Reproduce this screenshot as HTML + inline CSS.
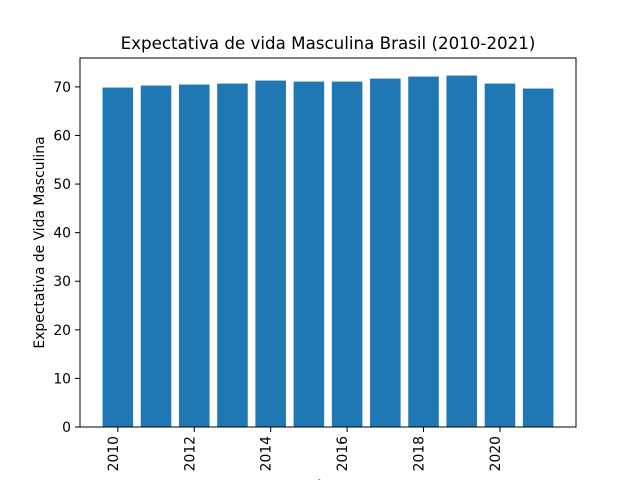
<!DOCTYPE html>
<html><head><meta charset="utf-8"><style>
body{margin:0;background:#fff}
svg text{font-family:"DejaVu Sans","Liberation Sans",sans-serif;fill:#000}
</style></head><body>
<svg id="c" width="640" height="480" viewBox="0 0 640 480">
<rect width="640" height="480" fill="#fff"/>
<g id="bars"></g><g id="axes"></g>
</svg>
<script>
const categories=[2010,2011,2012,2013,2014,2015,2016,2017,2018,2019,2020,2021];
const values=[69.86,70.27,70.48,70.68,71.30,71.09,71.09,71.71,72.12,72.33,70.68,69.66];
const yTicks=[0,10,20,30,40,50,60,70];
const xTicks=[2010,2012,2014,2016,2018,2020];
const L=80,R=576,T=58,B=427;
const ymax=Math.max(...values)*1.05;
const x0=categories[0]-0.4-0.05*(categories[categories.length-1]-categories[0]+0.8);
const x1=categories[categories.length-1]+0.4+0.05*(categories[categories.length-1]-categories[0]+0.8);
const xs=v=>L+(v-x0)/(x1-x0)*(R-L);
const ys=v=>B-v/ymax*(B-T);
const NS="http://www.w3.org/2000/svg";
function mk(t,a,p){const e=document.createElementNS(NS,t);for(const k in a)e.setAttribute(k,a[k]);p.appendChild(e);return e;}
const bars=document.getElementById('bars'),axes=document.getElementById('axes');
categories.forEach((c,i)=>{
 const r=mk('rect',{x:xs(c-0.4),y:ys(values[i]),width:xs(c+0.4)-xs(c-0.4),height:B-ys(values[i]),fill:'#1f77b4'},bars);
 
 
});
const fr=mk('rect',{x:L,y:T,width:R-L,height:B-T,fill:'none',stroke:'#000','stroke-width':1},axes);


yTicks.forEach(v=>{
 const y=ys(v);
 mk('line',{x1:L-5,x2:L,y1:y,y2:y,stroke:'#000','stroke-width':1},axes);
 const t=mk('text',{x:L-9,y:y+5,'text-anchor':'end','font-size':13.9},axes);
 t.textContent=v;
 
 
});
xTicks.forEach(v=>{
 const x=xs(v);
 mk('line',{x1:x,x2:x,y1:B,y2:B+5,stroke:'#000','stroke-width':1},axes);
 const t=mk('text',{x:0,y:0,'text-anchor':'end','font-size':13.9,transform:`translate(${x},${B+9}) rotate(-90)`},axes);
 t.textContent=v;
 
 
});
const ti=mk('text',{x:(L+R)/2,y:49,'text-anchor':'middle','font-size':16.7},axes);
ti.textContent='Expectativa de vida Masculina Brasil (2010-2021)';


const yl=mk('text',{x:0,y:0,'text-anchor':'middle','font-size':13.9,transform:`translate(44,${(T+B)/2}) rotate(-90)`},axes);
yl.textContent='Expectativa de Vida Masculina';


const xl=mk('text',{x:(L+R)/2,y:490,'text-anchor':'middle','font-size':13.9},axes);
xl.textContent='Ano';


</script>
</body></html>
